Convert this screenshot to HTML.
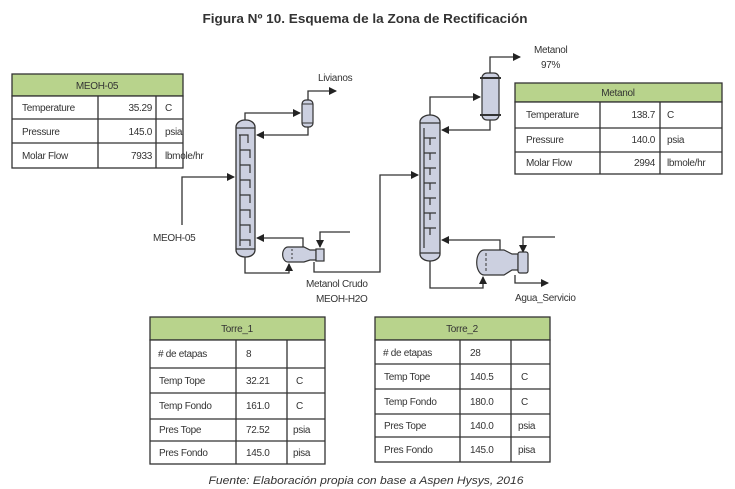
<!DOCTYPE html>
<html><head><meta charset="utf-8"><style>
html,body{margin:0;padding:0;background:#fff;}
svg{display:block;}
text{font-family:"Liberation Sans",Arial,sans-serif;fill:#333;}
</style></head><body>
<svg width="735" height="489" viewBox="0 0 735 489" xmlns="http://www.w3.org/2000/svg">
<defs>
<marker id="a" markerWidth="8" markerHeight="8" refX="7" refY="4" orient="auto" markerUnits="userSpaceOnUse"><path d="M0,0 L8,4 L0,8 z" fill="#222"/></marker>
</defs>
<text x="365" y="23" text-anchor="middle" font-size="13" font-weight="bold" textLength="325" lengthAdjust="spacingAndGlyphs" style="fill:#333">Figura Nº 10. Esquema de la Zona de Rectificación</text>

<g fill="none" stroke="#333" stroke-width="1.3">
<polyline points="245,121 245,113 300,113" marker-end="url(#a)"/>
<polyline points="308,100 308,91 336,91" marker-end="url(#a)"/>
<polyline points="308,127 308,135 257,135" marker-end="url(#a)"/>
<polyline points="182,225 182,177 234,177" marker-end="url(#a)"/>
<polyline points="245,255 245,273 289,273 289,264" marker-end="url(#a)"/>
<polyline points="303,247 303,238 257,238" marker-end="url(#a)"/>
<polyline points="350,232 320,232 320,247" marker-end="url(#a)"/>
<polyline points="314,262 314,272 380,272 380,175 418,175" marker-end="url(#a)"/>
<polyline points="430,116 430,97 480,97" marker-end="url(#a)"/>
<polyline points="490,73 490,57 520,57" marker-end="url(#a)"/>
<polyline points="490,120 490,130 442,130" marker-end="url(#a)"/>
<polyline points="430,259 430,288 483,288 483,277" marker-end="url(#a)"/>
<polyline points="500,250 500,240 442,240" marker-end="url(#a)"/>
<polyline points="555,237 523,237 523,252" marker-end="url(#a)"/>
<polyline points="515,275 515,283 548,283" marker-end="url(#a)"/>
</g>

<rect x="236" y="120" width="19" height="137" rx="9" ry="7" fill="#ccd0e0" stroke="#333" stroke-width="1.3"/>
<g stroke="#333" stroke-width="1.2" fill="none">
<line x1="236" y1="128" x2="255" y2="128"/><line x1="236" y1="249" x2="255" y2="249"/>
<path d="M239,135 h9 v8 M240,150 h10 v8 M240,165 h10 v8 M240,180 h10 v8 M240,195 h10 v8 M240,210 h10 v8 M240,225 h10 v8 M240,240 h10 v6"/>
<line x1="240" y1="135" x2="240" y2="246"/>
</g>
<rect x="302" y="100" width="11" height="27" rx="4" fill="#ccd0e0" stroke="#333" stroke-width="1.2"/>
<line x1="302" y1="104" x2="313" y2="104" stroke="#333"/><line x1="302" y1="123" x2="313" y2="123" stroke="#333"/>
<path d="M288,247 h16 l6,3 h6 v10 h-6 l-6,2 h-16 a5,7 0 0 1 0,-15z" fill="#ccd0e0" stroke="#333" stroke-width="1.2"/>
<rect x="316" y="249" width="8" height="12" fill="#ccd0e0" stroke="#333" stroke-width="1.2"/>
<line x1="292" y1="249" x2="292" y2="260" stroke="#333" stroke-dasharray="2,2"/>

<rect x="420" y="115" width="20" height="146" rx="10" ry="7" fill="#ccd0e0" stroke="#333" stroke-width="1.3"/>
<g stroke="#333" stroke-width="1.2" fill="none">
<line x1="420" y1="123" x2="440" y2="123"/><line x1="420" y1="253" x2="440" y2="253"/>
<path d="M424,138 h12 M430,138 v7 M424,153 h12 M430,153 v7 M424,168 h12 M430,168 v7 M424,183 h12 M430,183 v7 M424,198 h12 M430,198 v7 M424,213 h12 M430,213 v7 M424,228 h12 M430,228 v7"/>
<line x1="424" y1="128" x2="424" y2="248"/>
</g>
<rect x="482" y="73" width="17" height="47" rx="5" fill="#ccd0e0" stroke="#333" stroke-width="1.2"/>
<line x1="480" y1="78" x2="501" y2="78" stroke="#333" stroke-width="2"/><line x1="480" y1="115" x2="501" y2="115" stroke="#333" stroke-width="2"/>
<path d="M484,250 h20 l8,4 h6 v16 h-6 l-8,5 h-20 a7,12 0 0 1 0,-25z" fill="#ccd0e0" stroke="#333" stroke-width="1.2"/>
<rect x="518" y="252" width="10" height="21" rx="2" fill="#ccd0e0" stroke="#333" stroke-width="1.2"/>
<line x1="486" y1="253" x2="486" y2="272" stroke="#333" stroke-dasharray="3,2"/>

<g font-size="10" letter-spacing="-0.3">
<text x="318" y="81">Livianos</text>
<text x="153" y="241">MEOH-05</text>
<text x="306" y="287">Metanol Crudo</text>
<text x="316" y="302">MEOH-H2O</text>
<text x="534" y="53">Metanol</text>
<text x="541" y="68">97%</text>
<text x="515" y="301">Agua_Servicio</text>
</g>

<g font-size="10" letter-spacing="-0.3" stroke-width="1.3">
<rect x="12" y="74" width="171" height="22" fill="#b8d38c" stroke="#333"/>
<rect x="12" y="96" width="171" height="72" fill="#fff" stroke="#333"/>
<path d="M12,119 H183 M12,143 H183 M98,96 V168 M156,96 V168" stroke="#333"/>
<text x="97" y="89" text-anchor="middle">MEOH-05</text>
<text x="22" y="111">Temperature</text><text x="152" y="111" text-anchor="end">35.29</text><text x="165" y="111">C</text>
<text x="22" y="135">Pressure</text><text x="152" y="135" text-anchor="end">145.0</text><text x="165" y="135">psia</text>
<text x="22" y="159">Molar Flow</text><text x="152" y="159" text-anchor="end">7933</text><text x="165" y="159">lbmole/hr</text>
<rect x="515" y="83" width="207" height="19" fill="#b8d38c" stroke="#333"/>
<rect x="515" y="102" width="207" height="72" fill="#fff" stroke="#333"/>
<path d="M515,128 H722 M515,152 H722 M600,102 V174 M660,102 V174" stroke="#333"/>
<text x="618" y="96" text-anchor="middle">Metanol</text>
<text x="526" y="118">Temperature</text><text x="655" y="118" text-anchor="end">138.7</text><text x="667" y="118">C</text>
<text x="526" y="143">Pressure</text><text x="655" y="143" text-anchor="end">140.0</text><text x="667" y="143">psia</text>
<text x="526" y="166">Molar Flow</text><text x="655" y="166" text-anchor="end">2994</text><text x="667" y="166">lbmole/hr</text>
<rect x="150" y="317" width="175" height="23" fill="#b8d38c" stroke="#333"/>
<rect x="150" y="340" width="175" height="124" fill="#fff" stroke="#333"/>
<path d="M150,368 H325 M150,393 H325 M150,419 H325 M150,441 H325 M236,340 V464 M287,340 V464" stroke="#333"/>
<text x="237" y="332" text-anchor="middle">Torre_1</text>
<text x="158" y="357">#  de etapas</text><text x="246" y="357">8</text>
<text x="159" y="384">Temp Tope</text><text x="246" y="384">32.21</text><text x="296" y="384">C</text>
<text x="159" y="409">Temp Fondo</text><text x="246" y="409">161.0</text><text x="296" y="409">C</text>
<text x="159" y="433">Pres Tope</text><text x="246" y="433">72.52</text><text x="293" y="433">psia</text>
<text x="159" y="456">Pres Fondo</text><text x="246" y="456">145.0</text><text x="293" y="456">pisa</text>
<rect x="375" y="317" width="175" height="23" fill="#b8d38c" stroke="#333"/>
<rect x="375" y="340" width="175" height="122" fill="#fff" stroke="#333"/>
<path d="M375,364 H550 M375,389 H550 M375,414 H550 M375,437 H550 M460,340 V462 M511,340 V462" stroke="#333"/>
<text x="462" y="332" text-anchor="middle">Torre_2</text>
<text x="383" y="356">#  de etapas</text><text x="470" y="356">28</text>
<text x="384" y="380">Temp Tope</text><text x="470" y="380">140.5</text><text x="521" y="380">C</text>
<text x="384" y="405">Temp Fondo</text><text x="470" y="405">180.0</text><text x="521" y="405">C</text>
<text x="384" y="429">Pres Tope</text><text x="470" y="429">140.0</text><text x="518" y="429">psia</text>
<text x="384" y="453">Pres Fondo</text><text x="470" y="453">145.0</text><text x="518" y="453">pisa</text>
</g>

<text x="366" y="484" text-anchor="middle" font-size="11" font-style="italic" textLength="315" lengthAdjust="spacingAndGlyphs">Fuente: Elaboración propia con base a Aspen Hysys, 2016</text>
</svg>
</body></html>
